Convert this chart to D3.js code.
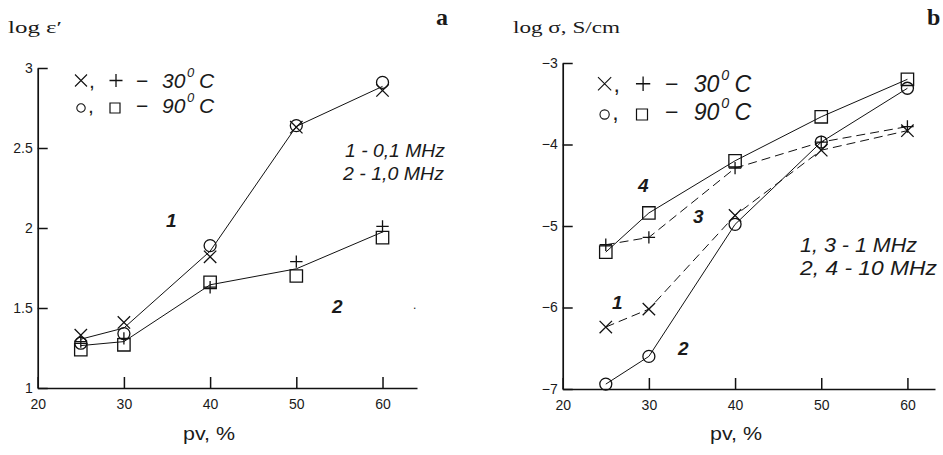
<!DOCTYPE html>
<html>
<head>
<meta charset="utf-8">
<script src="https://cdn.jsdelivr.net/npm/d3@7"></script>
<style>
  html, body { margin: 0; padding: 0; background: #fff; }
  svg { display: block; }
  text { fill: #1a1a1a; }
</style>
</head>
<body>
<svg id="chart" width="943" height="455"></svg>
<script>
// ---------------- DATA ----------------
const pv = [25, 30, 40, 50, 60];               // pv, %
const xTickValues = [20, 30, 40, 50, 60];
// panel a : log ε'
const epsTicks = [1, 1.5, 2, 2.5, 3];
const eps1_30C = [1.33, 1.41, 1.82, 2.63, 2.86];   // ×  (0,1 MHz, 30 °C)
const eps1_90C = [1.28, 1.34, 1.89, 2.64, 2.91];   // ○  (0,1 MHz, 90 °C)
const eps2_30C = [1.29, 1.31, 1.63, 1.79, 2.01];   // +  (1,0 MHz, 30 °C)
const eps2_90C = [1.24, 1.27, 1.66, 1.70, 1.94];   // □  (1,0 MHz, 90 °C)
// panel b : log σ, S/cm
const sigTicks = [-7, -6, -5, -4, -3];
const sig1 = [-6.24, -6.02, -4.87, -4.07, -3.83];  // ×  curve 1 (dashed)
const sig2 = [-6.94, -6.60, -4.98, -3.97, -3.31];  // ○  curve 2 (solid)
const sig3 = [-5.23, -5.14, -4.29, -3.97, -3.78];  // +  curve 3 (dashed)
const sig4 = [-5.32, -4.84, -4.20, -3.66, -3.20];  // □  curve 4 (solid)

const svg = d3.select("#chart");
const INK = "#111";

// ---------------- helpers ----------------
function marker(g, type, cx, cy, h, sw) {
  const p = d3.path();
  if (type === "x") {
    p.moveTo(cx - h, cy - h); p.lineTo(cx + h, cy + h);
    p.moveTo(cx - h, cy + h); p.lineTo(cx + h, cy - h);
  } else if (type === "plus") {
    p.moveTo(cx - h, cy); p.lineTo(cx + h, cy);
    p.moveTo(cx, cy - h); p.lineTo(cx, cy + h);
  } else if (type === "circle") {
    p.moveTo(cx + h, cy); p.arc(cx, cy, h, 0, 2 * Math.PI);
  } else if (type === "square") {
    p.rect(cx - h, cy - h, 2 * h, 2 * h);
  }
  g.append("path").attr("d", p.toString())
    .attr("fill", "none")
    .attr("stroke", INK).attr("stroke-width", sw || 1.3);
}

function drawAxes(g, x, y, yTicks, yFmt) {
  const xa = d3.axisBottom(x).tickValues(xTickValues).tickSize(-11).tickSizeOuter(0).tickPadding(11);
  const ya = d3.axisLeft(y).tickValues(yTicks).tickSize(-10).tickSizeOuter(0).tickPadding(5).tickFormat(yFmt);
  const gx = g.append("g").attr("transform", `translate(0,${y.range()[0]})`).call(xa);
  const gy = g.append("g").attr("transform", `translate(${x.range()[0]},0)`).call(ya);
  [gx, gy].forEach(a => {
    a.select(".domain").attr("stroke", INK).attr("stroke-width", 1.7);
    a.selectAll(".tick line").attr("stroke", INK).attr("stroke-width", 1.5);
    a.selectAll(".tick text").attr("font-family", "Liberation Sans, Arial, sans-serif")
      .attr("font-size", 14).attr("fill", "#333");
  });
}

function legend(g, x0, b1, b2, s) {
  const f = "Liberation Sans, Arial, sans-serif";
  const fs = 21 * s;
  const cy1 = b1 - 7.5 * s, cy2 = b2 - 5 * s;
  // row 1 : ×, + − 30 °C
  marker(g, "x", x0 + 6 * s, cy1, 6 * s, 1.1);
  g.append("text").attr("x", x0 + 14 * s).attr("y", b1).attr("font-family", f).attr("font-size", fs).text(",");
  marker(g, "plus", x0 + 41 * s, cy1, 6.5 * s, 1.3);
  g.append("text").attr("x", x0 + 61 * s).attr("y", b1).attr("font-family", f).attr("font-size", fs).text("−");
  g.append("text").attr("x", x0 + 87 * s).attr("y", b1).attr("font-family", f).attr("font-size", fs).attr("font-style", "italic").text("30");
  g.append("text").attr("x", x0 + 112 * s).attr("y", b1 - 11 * s).attr("font-family", f).attr("font-size", 13 * s).attr("font-style", "italic").text("0");
  g.append("text").attr("x", x0 + 124 * s).attr("y", b1).attr("font-family", f).attr("font-size", fs).attr("font-style", "italic").text("C");
  // row 2 : ○, □ − 90 °C
  marker(g, "circle", x0 + 6 * s, cy2, 4.2 * s, 1.1);
  g.append("text").attr("x", x0 + 13 * s).attr("y", b2).attr("font-family", f).attr("font-size", fs).text(",");
  marker(g, "square", x0 + 40 * s, cy2, 5 * s, 1.2);
  g.append("text").attr("x", x0 + 61 * s).attr("y", b2).attr("font-family", f).attr("font-size", fs).text("−");
  g.append("text").attr("x", x0 + 87 * s).attr("y", b2).attr("font-family", f).attr("font-size", fs).attr("font-style", "italic").text("90");
  g.append("text").attr("x", x0 + 112 * s).attr("y", b2 - 11 * s).attr("font-family", f).attr("font-size", 13 * s).attr("font-style", "italic").text("0");
  g.append("text").attr("x", x0 + 124 * s).attr("y", b2).attr("font-family", f).attr("font-size", fs).attr("font-style", "italic").text("C");
}

function series(g, x, y, vals, type, dashed, drawLine) {
  if (drawLine) {
    const line = d3.line().x((d, i) => x(pv[i])).y(d => y(d));
    g.append("path").datum(vals).attr("d", line).attr("fill", "none")
      .attr("stroke", INK).attr("stroke-width", 1)
      .attr("stroke-dasharray", dashed ? "9,5" : null);
  }
  vals.forEach((v, i) => marker(g, type, x(pv[i]), y(v), type === "circle" ? 6 : 6.2));
}

function txt(g, x, y, s, opts) {
  const t = g.append("text").attr("x", x).attr("y", y).text(s)
    .attr("font-family", opts.family || "Liberation Sans, Arial, sans-serif")
    .attr("font-size", opts.size || 16);
  if (opts.style) t.attr("font-style", opts.style);
  if (opts.weight) t.attr("font-weight", opts.weight);
  if (opts.len) t.attr("textLength", opts.len).attr("lengthAdjust", "spacingAndGlyphs");
  if (opts.anchor) t.attr("text-anchor", opts.anchor);
  return t;
}

// ---------------- PANEL A ----------------
const gA = svg.append("g");
const xA = d3.scaleLinear().domain([20, 64]).range([37.7, 417]);
const yA = d3.scaleLinear().domain([1, 3]).range([388, 68]);
drawAxes(gA, xA, yA, epsTicks, d3.format(""));

const mean1 = eps1_30C.map((v, i) => (v + eps1_90C[i]) / 2);
const mean2 = eps2_30C.map((v, i) => (v + eps2_90C[i]) / 2);
const lineA = d3.line().x((d, i) => xA(pv[i])).y(d => yA(d));
gA.append("path").datum(mean1).attr("d", lineA).attr("fill", "none").attr("stroke", INK).attr("stroke-width", 1);
gA.append("path").datum(mean2).attr("d", lineA).attr("fill", "none").attr("stroke", INK).attr("stroke-width", 1);
series(gA, xA, yA, eps1_30C, "x", false, false);
series(gA, xA, yA, eps1_90C, "circle", false, false);
series(gA, xA, yA, eps2_30C, "plus", false, false);
series(gA, xA, yA, eps2_90C, "square", false, false);

legend(gA, 75, 88, 113, 1);
txt(gA, 8, 33, "log ε′", { family: "Liberation Serif, Times New Roman, serif", size: 17, len: 54 });
txt(gA, 436, 25, "a", { family: "Liberation Serif, Times New Roman, serif", size: 24, weight: "bold" });
txt(gA, 345, 157, "1 - 0,1 MHz", { size: 18, style: "italic", len: 100 });
txt(gA, 343, 180, "2 - 1,0 MHz", { size: 18, style: "italic", len: 101 });
txt(gA, 166, 227, "1", { size: 19, style: "italic", weight: "bold" });
txt(gA, 332, 313, "2", { size: 19, style: "italic", weight: "bold" });
txt(gA, 413, 309, ".", { size: 12 });
txt(gA, 209, 440, "pv, %", { size: 18, anchor: "middle", len: 52 });

// ---------------- PANEL B ----------------
const gB = svg.append("g");
const xB = d3.scaleLinear().domain([20, 63.2]).range([562.7, 935]);
const yB = d3.scaleLinear().domain([-7, -3]).range([389, 63]);
drawAxes(gB, xB, yB, sigTicks, d3.format(""));

series(gB, xB, yB, sig1, "x", true, true);
series(gB, xB, yB, sig2, "circle", false, true);
series(gB, xB, yB, sig3, "plus", true, true);
series(gB, xB, yB, sig4, "square", false, true);

legend(gB, 598, 92, 120, 1.1);
txt(gB, 513, 33, "log σ, S/cm", { family: "Liberation Serif, Times New Roman, serif", size: 17, len: 107 });
txt(gB, 927, 25, "b", { family: "Liberation Serif, Times New Roman, serif", size: 24, weight: "bold" });
txt(gB, 800, 252, "1, 3 - 1 MHz", { size: 20, style: "italic", len: 117 });
txt(gB, 800, 275, "2, 4 - 10 MHz", { size: 20, style: "italic", len: 137 });
txt(gB, 638, 192, "4", { size: 19, style: "italic", weight: "bold" });
txt(gB, 693, 223, "3", { size: 19, style: "italic", weight: "bold" });
txt(gB, 612, 309, "1", { size: 19, style: "italic", weight: "bold" });
txt(gB, 678, 355, "2", { size: 19, style: "italic", weight: "bold" });
txt(gB, 736, 440, "pv, %", { size: 18, anchor: "middle", len: 52 });
</script>
</body>
</html>
